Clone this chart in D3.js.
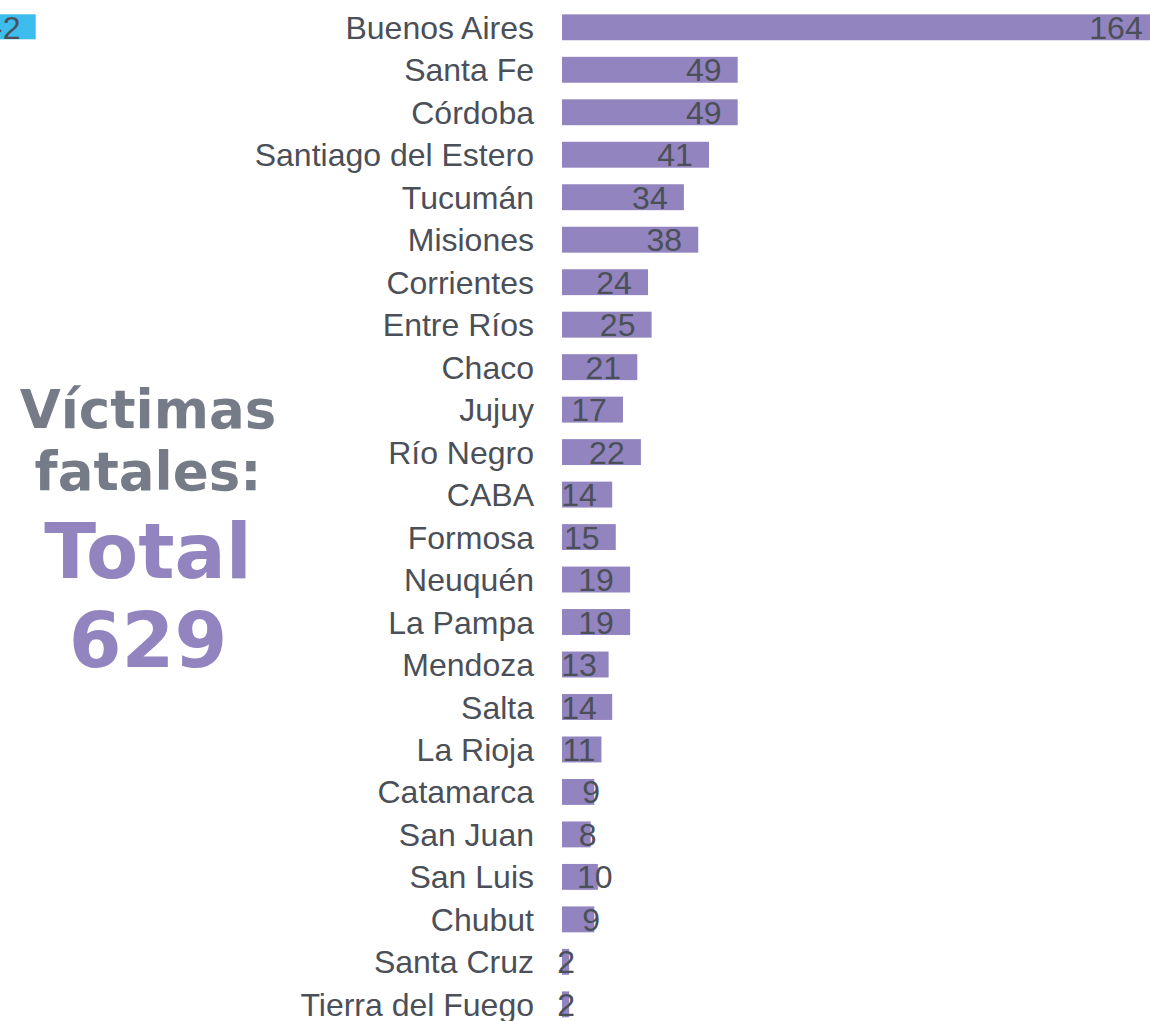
<!DOCTYPE html>
<html>
<head>
<meta charset="utf-8">
<script src="https://cdn.jsdelivr.net/npm/d3@7"></script>
<style>
  body { margin: 0; background: #fff; }
  svg { display: block; }
</style>
</head>
<body>
<svg id="chart"></svg>
<script>
// provinces, in the order they are drawn
var provinces = ["Buenos Aires", "Santa Fe", "Córdoba", "Santiago del Estero", "Tucumán",
  "Misiones", "Corrientes", "Entre Ríos", "Chaco", "Jujuy", "Río Negro", "CABA", "Formosa",
  "Neuquén", "La Pampa", "Mendoza", "Salta", "La Rioja", "Catamarca", "San Juan", "San Luis",
  "Chubut", "Santa Cruz", "Tierra del Fuego"];
// fatal victims per province
var victims = [164, 49, 49, 41, 34, 38, 24, 25, 21, 17, 22, 14, 15, 19, 19, 13, 14, 11, 9, 8, 10, 9, 2, 2];
var titleLines = ["Víctimas", "fatales:"];
var totalLines = ["Total", "629"];
var tipText = "-2";

var W = 1150, H = 1021;
var svg = d3.select("#chart").attr("width", W).attr("height", H);

var data = provinces.map(function(p, i) { return {name: p, value: victims[i]}; });

// scales
var x = d3.scaleLinear()
    .domain([0, d3.max(victims)])
    .range([562, 1150]);

var y = d3.scaleBand()
    .domain(provinces)
    .range([6.06, 6.06 + 24 * 42.48])
    .paddingInner(0.39)
    .paddingOuter(0.195);

// bars
svg.append("g")
  .selectAll("rect")
  .data(data)
  .enter().append("rect")
    .attr("x", x(0))
    .attr("y", function(d) { return y(d.name); })
    .attr("width", function(d) { return x(d.value) - x(0); })
    .attr("height", y.bandwidth())
    .attr("fill", "#9284bf");

// province names
svg.append("g")
  .selectAll("text")
  .data(data)
  .enter().append("text")
    .attr("x", x(0) - 28)
    .attr("y", function(d) { return y(d.name) + y.bandwidth() / 2; })
    .attr("dy", "0.36em")
    .attr("text-anchor", "end")
    .style("font-family", "'Liberation Sans', Arial, sans-serif")
    .style("font-size", "32px")
    .style("fill", "#4b4f58")
    .text(function(d) { return d.name; });

// value labels: inside the bar end, or at the end for very short bars
svg.append("g")
  .selectAll("text")
  .data(data)
  .enter().append("text")
    .attr("x", function(d) {
      var bw = x(d.value) - x(0);
      if (bw < 38) return x(d.value) - 3;
      return Math.max(x(d.value) - 34, x(0) + 17);
    })
    .attr("y", function(d) { return y(d.name) + y.bandwidth() / 2; })
    .attr("dy", "0.36em")
    .attr("text-anchor", "middle")
    .style("font-family", "'Liberation Sans', Arial, sans-serif")
    .style("font-size", "32px")
    .style("fill", "#4b4f58")
    .text(function(d) { return d.value; });

// title block on the left
var title = svg.append("g")
    .style("font-family", "'DejaVu Sans', Verdana, sans-serif")
    .style("font-weight", "bold")
    .attr("text-anchor", "middle");

title.selectAll("text.t1")
  .data(titleLines)
  .enter().append("text")
    .attr("class", "t1")
    .attr("x", 148)
    .attr("y", function(d, i) { return 428 + i * 62; })
    .style("font-size", "53px")
    .style("fill", "#757b87")
    .text(function(d) { return d; });

title.selectAll("text.t2")
  .data(totalLines)
  .enter().append("text")
    .attr("class", "t2")
    .attr("x", 148)
    .attr("y", function(d, i) { return 578 + i * 89; })
    .style("font-size", "76px")
    .style("fill", "#9284bf")
    .text(function(d) { return d; });

// tooltip box cut off at the top-left corner
var tip = svg.append("g");
tip.append("rect")
    .attr("x", -60)
    .attr("y", 14.3)
    .attr("width", 95.7)
    .attr("height", 25)
    .attr("fill", "#3cbdee");
tip.append("text")
    .attr("x", 20.5)
    .attr("y", 27)
    .attr("dy", "0.36em")
    .attr("text-anchor", "end")
    .style("font-family", "'Liberation Sans', Arial, sans-serif")
    .style("font-size", "32px")
    .style("fill", "#4b4f58")
    .text(tipText);
</script>
</body>
</html>
